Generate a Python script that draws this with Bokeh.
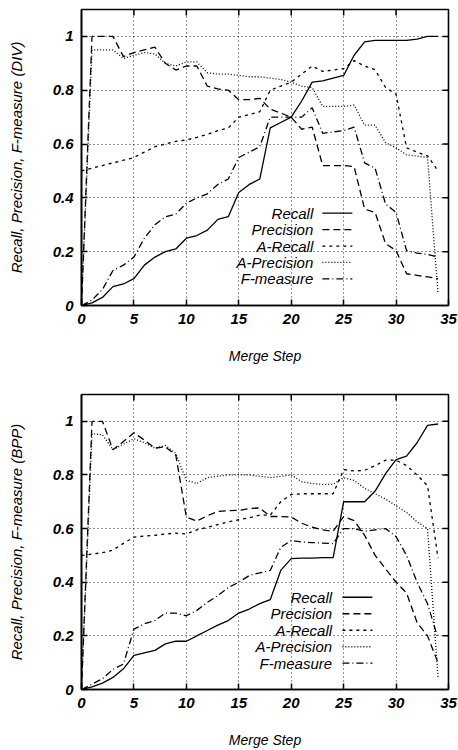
from bokeh.plotting import figure
from bokeh.models import FixedTicker, Label, Range1d
from bokeh.layouts import column
from bokeh.embed import file_html
from bokeh.resources import INLINE

# ---------------- data ----------------
steps = list(range(35))
x_ticks = [0, 5, 10, 15, 20, 25, 30, 35]
y_ticks = [0.0, 0.2, 0.4, 0.6, 0.8, 1.0]
y_tick_labels = ["0", "0.2", "0.4", "0.6", "0.8", "1"]
series_names = ["Recall", "Precision", "A-Recall", "A-Precision", "F-measure"]

div_recall = [0, 0.01, 0.03, 0.07, 0.08, 0.10, 0.15, 0.18, 0.20, 0.21, 0.25, 0.26, 0.28, 0.32, 0.33,
              0.42, 0.45, 0.47, 0.66, 0.68, 0.70, 0.76, 0.83, 0.835, 0.845, 0.855, 0.93, 0.98, 0.985,
              0.985, 0.985, 0.985, 0.99, 1.0, 1.0]
div_precision = [0, 1.0, 1.0, 1.0, 0.925, 0.94, 0.95, 0.96, 0.90, 0.875, 0.89, 0.89, 0.815, 0.805, 0.80,
                 0.765, 0.765, 0.77, 0.73, 0.715, 0.70, 0.655, 0.663, 0.52, 0.52, 0.52, 0.516, 0.358,
                 0.346, 0.23, 0.204, 0.118, 0.112, 0.106, 0.10]
div_arecall = [0.50, 0.51, 0.52, 0.53, 0.54, 0.55, 0.57, 0.59, 0.60, 0.61, 0.615, 0.625, 0.636, 0.65, 0.66,
               0.70, 0.71, 0.72, 0.80, 0.815, 0.83, 0.86, 0.89, 0.87, 0.875, 0.88, 0.91, 0.89, 0.876,
               0.81, 0.785, 0.586, 0.57, 0.556, 0.50]
div_aprecision = [0, 0.95, 0.95, 0.95, 0.918, 0.93, 0.94, 0.935, 0.90, 0.89, 0.905, 0.905, 0.865, 0.86, 0.86,
                  0.855, 0.85, 0.85, 0.845, 0.84, 0.83, 0.815, 0.81, 0.74, 0.74, 0.74, 0.745, 0.67, 0.67,
                  0.605, 0.586, 0.56, 0.555, 0.55, 0.045]
div_fmeasure = [0, 0.02, 0.06, 0.13, 0.15, 0.18, 0.25, 0.30, 0.33, 0.34, 0.38, 0.40, 0.415, 0.45, 0.47,
                0.55, 0.57, 0.59, 0.70, 0.70, 0.70, 0.70, 0.735, 0.64, 0.645, 0.65, 0.663, 0.53, 0.51,
                0.377, 0.346, 0.204, 0.195, 0.19, 0.18]

bpp_recall = [0, 0.01, 0.024, 0.045, 0.077, 0.127, 0.137, 0.146, 0.17, 0.18, 0.18, 0.20, 0.22, 0.24, 0.257,
              0.285, 0.30, 0.32, 0.335, 0.444, 0.488, 0.49, 0.49, 0.492, 0.492, 0.70, 0.70, 0.70, 0.74,
              0.805, 0.857, 0.87, 0.92, 0.985, 0.99]
bpp_precision = [0, 1.0, 1.0, 0.894, 0.925, 0.957, 0.93, 0.90, 0.905, 0.873, 0.643, 0.628, 0.648, 0.664,
                 0.667, 0.668, 0.675, 0.677, 0.645, 0.645, 0.643, 0.62, 0.605, 0.595, 0.59, 0.645, 0.63,
                 0.575, 0.50, 0.45, 0.40, 0.36, 0.25, 0.20, 0.10]
bpp_arecall = [0.50, 0.505, 0.51, 0.52, 0.545, 0.568, 0.572, 0.575, 0.58, 0.583, 0.58, 0.595, 0.605, 0.615,
               0.625, 0.633, 0.64, 0.65, 0.65, 0.70, 0.727, 0.73, 0.73, 0.73, 0.73, 0.82, 0.815, 0.817,
               0.835, 0.855, 0.855, 0.835, 0.80, 0.76, 0.49]
bpp_aprecision = [0, 0.954, 0.95, 0.894, 0.915, 0.935, 0.92, 0.90, 0.91, 0.88, 0.78, 0.768, 0.79, 0.795,
                  0.80, 0.80, 0.80, 0.795, 0.79, 0.795, 0.80, 0.775, 0.768, 0.765, 0.765, 0.79, 0.78, 0.75,
                  0.73, 0.71, 0.685, 0.66, 0.625, 0.60, 0.046]
bpp_fmeasure = [0, 0.02, 0.04, 0.075, 0.095, 0.225, 0.245, 0.257, 0.285, 0.285, 0.275, 0.295, 0.325, 0.35,
                0.38, 0.40, 0.425, 0.435, 0.444, 0.53, 0.556, 0.55, 0.548, 0.546, 0.544, 0.60, 0.60, 0.59,
                0.595, 0.60, 0.57, 0.50, 0.40, 0.32, 0.19]

# ---------------- styling ----------------
FONT = "Liberation Sans"
styles = {
    "Recall": None,
    "Precision": "7 4",
    "A-Recall": "3 4",
    "A-Precision": "1 2",
    "F-measure": "7 3 1 3",
}
X_MAX, Y_MAX = 35, 1.1
FRAME_W = 367


def make_chart(ylabel, series, border_top, frame_h, border_bottom, leg):
    p = figure(frame_width=FRAME_W, frame_height=frame_h,
               x_range=Range1d(0, X_MAX), y_range=Range1d(0, Y_MAX),
               output_backend="svg", toolbar_location=None,
               min_border_left=81, min_border_right=10,
               min_border_top=border_top, min_border_bottom=border_bottom)
    p.background_fill_color = "white"
    p.border_fill_color = "white"
    p.outline_line_color = "black"
    p.outline_line_width = 1.6

    for ax in (p.xaxis, p.yaxis):
        ax.major_tick_in = 6
        ax.major_tick_out = 0
        ax.minor_tick_line_color = None
        ax.major_tick_line_width = 1.5
        ax.axis_line_width = 1.6
        ax.major_label_text_font = FONT
        ax.major_label_text_font_style = "bold italic"
        ax.major_label_text_font_size = "15px"
        ax.major_label_text_color = "black"
        ax.axis_label_text_font = FONT
        ax.axis_label_text_font_style = "italic"
        ax.axis_label_text_font_size = "14px"
        ax.axis_label_text_color = "black"
    p.yaxis.axis_label_text_font_size = "15px"
    p.xaxis.ticker = FixedTicker(ticks=x_ticks)
    p.yaxis.ticker = FixedTicker(ticks=y_ticks)
    p.yaxis.major_label_overrides = dict(zip(y_ticks, y_tick_labels))
    p.xaxis.major_label_standoff = 8
    p.yaxis.major_label_standoff = 8
    p.xaxis.axis_label = "Merge Step"
    p.xaxis.axis_label_standoff = 21
    p.yaxis.axis_label = ylabel
    p.yaxis.axis_label_standoff = 25

    for g in (p.xgrid, p.ygrid):
        g.grid_line_color = "black"
        g.grid_line_dash = "1 3"
        g.grid_line_width = 1
        g.grid_line_alpha = 0.85
    p.xgrid.ticker = FixedTicker(ticks=x_ticks[1:-1])
    p.ygrid.ticker = FixedTicker(ticks=y_ticks[1:])

    # inward tick marks on the top and right frame edges (mirroring the axis ticks)
    tick_len_px = 6
    dy = tick_len_px * Y_MAX / frame_h
    dx = tick_len_px * X_MAX / FRAME_W
    p.segment(x0=x_ticks[1:-1], y0=[Y_MAX] * len(x_ticks[1:-1]),
              x1=x_ticks[1:-1], y1=[Y_MAX - dy] * len(x_ticks[1:-1]),
              line_color="black", line_width=1.5)
    p.segment(x0=[X_MAX] * len(y_ticks[1:]), y0=y_ticks[1:],
              x1=[X_MAX - dx] * len(y_ticks[1:]), y1=y_ticks[1:],
              line_color="black", line_width=1.5)

    for i, (name, vals) in enumerate(zip(series_names, series)):
        dash = styles[name]
        kw = dict(line_color="black", line_width=1.3)
        if dash:
            kw["line_dash"] = dash
        p.line(steps, vals, **kw)
        # legend key (text right-aligned, sample line to its right, gnuplot style)
        ky = leg["row0"] - i * leg["step"]
        p.line([leg["key0"], leg["key1"]], [ky, ky], **kw)
        p.add_layout(Label(x=leg["label_x"], y=ky, text=name, text_align="right",
                           text_baseline="middle", text_font=FONT, text_font_style="italic",
                           text_font_size="15px", text_color="black"))
    return p


p1 = make_chart("Recall, Precision, F-measure (DIV)",
                [div_recall, div_precision, div_arecall, div_aprecision, div_fmeasure],
                border_top=9, frame_h=296, border_bottom=75,
                leg=dict(label_x=22.1, key0=22.97, key1=25.83, row0=0.343, step=0.061))
p2 = make_chart("Recall, Precision, F-measure (BPP)",
                [bpp_recall, bpp_precision, bpp_arecall, bpp_aprecision, bpp_fmeasure],
                border_top=14, frame_h=295, border_bottom=60,
                leg=dict(label_x=23.9, key0=24.88, key1=27.74, row0=0.344, step=0.0615))

layout = column(p1, p2, spacing=0)
open("out.html", "w").write(file_html(layout, INLINE))
